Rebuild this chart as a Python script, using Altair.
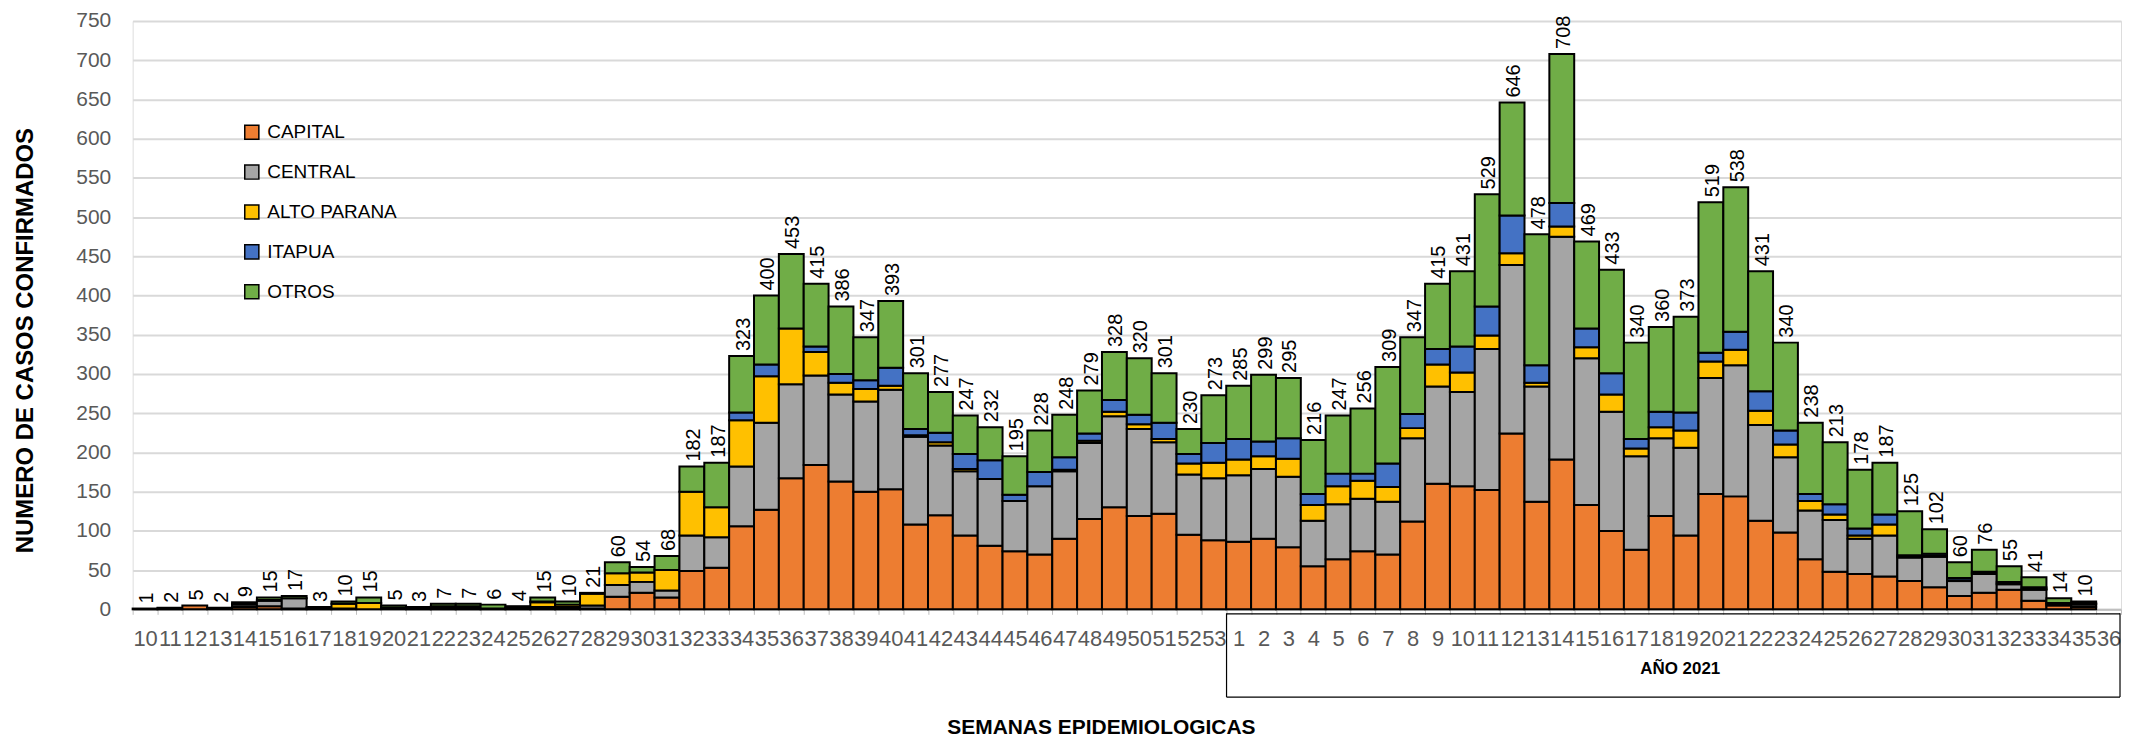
import altair as alt
import pandas as pd

WEEKS_2020 = list(range(10, 54))
WEEKS_2021 = list(range(1, 37))

SERIES = ["CAPITAL", "CENTRAL", "ALTO PARANA", "ITAPUA", "OTROS"]
COLORS = ["#ED7D31", "#A5A5A5", "#FFC000", "#4472C4", "#70AD47"]

# 2020 weeks 10..53 followed by 2021 weeks 1..36
CAPITAL = [0, 1, 5, 1, 3, 4, 1, 1, 1, 0, 1, 0, 1, 1, 0, 0, 1, 1, 1, 16,
           21, 15, 49, 53, 106, 127, 167, 184, 163, 150, 153, 108, 120, 94, 81, 74, 70, 90, 115, 130,
           119, 122, 95, 88,
           86, 90, 79, 55, 64, 74, 70, 112, 160, 157, 152, 224, 137, 191, 133, 100, 76, 119, 94, 147,
           144, 113, 98, 64, 48, 45, 42, 36, 28, 17, 21, 25, 11, 5, 3, 0]
CENTRAL = [1, 1, 0, 1, 3, 7, 13, 1, 0, 0, 1, 1, 2, 2, 1, 1, 2, 2, 4, 15,
           14, 9, 45, 39, 76, 111, 120, 114, 111, 115, 127, 112, 89, 82, 85, 64, 87, 86, 97, 116,
           111, 91, 77, 79,
           85, 89, 90, 58, 70, 67, 67, 106, 124, 120, 180, 215, 147, 284, 187, 152, 119, 99, 112, 148,
           167, 122, 96, 62, 66, 45, 52, 30, 39, 19, 24, 7, 14, 2, 3, 0]
ALTO_PARANA = [0, 0, 0, 0, 0, 0, 0, 0, 6, 8, 0, 0, 1, 1, 0, 1, 6, 3, 15, 15,
               12, 26, 56, 38, 59, 59, 71, 30, 15, 16, 5, 2, 4, 3, 0, 0, 0, 2, 3, 6,
               6, 4, 14, 20,
               20, 16, 23, 20, 23, 23, 19, 13, 28, 25, 17, 15, 5, 13, 14, 22, 10, 14, 22, 21,
               20, 18, 16, 12, 7, 4, 14, 1, 1, 1, 1, 1, 1, 0, 1, 0]
ITAPUA = [0, 0, 0, 0, 1, 1, 0, 0, 0, 0, 0, 0, 0, 0, 0, 0, 1, 0, 0, 0,
          0, 0, 0, 0, 10, 15, 0, 7, 11, 11, 23, 8, 12, 19, 24, 8, 18, 16, 9, 15,
          12, 21, 12, 25,
          26, 19, 26, 14, 16, 9, 30, 18, 20, 33, 37, 48, 22, 30, 24, 27, 12, 20, 23, 11,
          23, 25, 18, 9, 13, 9, 13, 2, 3, 3, 2, 2, 2, 1, 1, 0]
OTROS = [0, 0, 0, 0, 2, 3, 3, 1, 3, 7, 3, 2, 3, 3, 5, 2, 5, 4, 1, 14,
         7, 18, 32, 57, 72, 88, 95, 80, 86, 55, 85, 71, 52, 49, 42, 49, 53, 54, 55, 61,
         72, 63, 32, 61,
         68, 85, 77, 69, 74, 83, 123, 98, 83, 96, 143, 144, 167, 190, 111, 132, 123, 108, 122, 192,
         184, 153, 112, 91, 79, 75, 66, 56, 31, 20, 28, 20, 13, 6, 2, 0]
TOTALS = [1, 2, 5, 2, 9, 15, 17, 3, 10, 15, 5, 3, 7, 7, 6, 4, 15, 10, 21, 60,
          54, 68, 182, 187, 323, 400, 453, 415, 386, 347, 393, 301, 277, 247, 232, 195, 228, 248, 279, 328,
          320, 301, 230, 273,
          285, 299, 295, 216, 247, 256, 309, 347, 415, 431, 529, 646, 478, 708, 469, 433, 340, 360, 373, 519,
          538, 431, 340, 238, 213, 178, 187, 125, 102, 60, 76, 55, 41, 14, 10, 0]

YEAR_LABEL = "AÑO 2021"
X_TITLE = "SEMANAS EPIDEMIOLOGICAS"
Y_TITLE = "NUMERO DE CASOS CONFIRMADOS"

keys = [f"2020-{w}" for w in WEEKS_2020] + [f"2021-{w}" for w in WEEKS_2021]
values = [CAPITAL, CENTRAL, ALTO_PARANA, ITAPUA, OTROS]

rows = []
for i, k in enumerate(keys):
    for j, s in enumerate(SERIES):
        v = values[j][i]
        if v > 0:
            rows.append({"key": k, "serie": s, "ord": j, "v": v})
df = pd.DataFrame(rows)
tot = pd.DataFrame({"key": keys, "total": TOTALS})
tot = tot[tot["total"] > 0]

FONT = "Liberation Sans"

xscale = alt.Scale(domain=keys, paddingInner=0, paddingOuter=0)
x_axis = alt.Axis(
    labelExpr="split(datum.value, '-')[1]",
    labelAngle=0,
    labelFontSize=22,
    labelFont=FONT,
    labelColor="#595959",
    labelPadding=14,
    labelOverlap=False,
    ticks=True,
    tickBand="extent",
    tickSize=5,
    tickColor="#bfbfbf",
    domain=True,
    domainColor="#bfbfbf",
    domainWidth=2,
    title=X_TITLE,
    titleFont=FONT,
    titleFontSize=21,
    titleFontWeight="bold",
    titleColor="black",
    titleX=971,
    titleY=119,
    titleBaseline="middle",
    titleAlign="center",
)
y_axis = alt.Axis(
    values=list(range(0, 751, 50)),
    grid=True,
    gridColor="#d9d9d9",
    gridWidth=2,
    domain=False,
    ticks=False,
    tickSize=0,
    labelOverlap=False,
    labelFontSize=21,
    labelFont=FONT,
    labelColor="#595959",
    labelPadding=22,
    title=Y_TITLE,
    titleFont=FONT,
    titleFontSize=24,
    titleFontWeight="bold",
    titleColor="black",
    titleAngle=270,
    titleX=-100,
    titleY=320,
    titleBaseline="alphabetic",
    titleAlign="center",
)
yscale = alt.Scale(domain=[0, 750], nice=False)

bars = alt.Chart(df).mark_bar(stroke="black", strokeWidth=2).encode(
    x=alt.X("key:N", sort=keys, scale=xscale, axis=x_axis),
    y=alt.Y("sum(v):Q", stack="zero", scale=yscale, axis=y_axis),
    color=alt.Color(
        "serie:N",
        scale=alt.Scale(domain=SERIES, range=COLORS),
        legend=alt.Legend(
            orient="none",
            legendX=110,
            legendY=102,
            direction="vertical",
            title=None,
            symbolType="square",
            symbolSize=200,
            symbolStrokeColor="black",
            symbolStrokeWidth=1.5,
            symbolOpacity=1,
            labelFont=FONT,
            labelFontSize=19,
            labelColor="black",
            labelOffset=6,
            rowPadding=19,
            padding=0,
        ),
    ),
    order=alt.Order("ord:Q", sort="ascending"),
)

labels = alt.Chart(tot).mark_text(
    angle=270, align="left", baseline="middle", dx=5, dy=2, fontSize=20, font=FONT, color="black"
).encode(
    x=alt.X("key:N", sort=keys, scale=xscale, axis=x_axis),
    y=alt.Y("total:Q", scale=yscale, axis=y_axis),
    text=alt.Text("total:Q"),
)

box_df = pd.DataFrame({"k": [0]})
vline = alt.Chart(box_df).mark_rule(color="black", strokeWidth=1.2).encode(
    x=alt.value(1097), y=alt.value(594), y2=alt.value(678)
)
vline_r = alt.Chart(box_df).mark_rule(color="black", strokeWidth=1.2).encode(
    x=alt.value(1993), y=alt.value(594), y2=alt.value(678)
)
hline_top = alt.Chart(box_df).mark_rule(color="black", strokeWidth=1.2).encode(
    x=alt.value(1097), x2=alt.value(1993), y=alt.value(594.5)
)
hline_bot = alt.Chart(box_df).mark_rule(color="black", strokeWidth=1.2).encode(
    x=alt.value(1097), x2=alt.value(1993), y=alt.value(678)
)
year_text = alt.Chart(pd.DataFrame({"t": [YEAR_LABEL]})).mark_text(
    font=FONT, fontSize=17, fontWeight="bold", color="black", align="center", baseline="middle"
).encode(x=alt.value(1552), y=alt.value(650), text="t:N")

chart = alt.layer(bars, labels, vline, vline_r, hline_top, hline_bot, year_text).properties(
    width=1994,
    height=590,
    autosize=alt.AutoSizeParams(type="none"),
    padding={"left": 125, "top": 12, "right": 2, "bottom": 130},
).configure_view(stroke=None).configure(background="white")

chart.save("out.html", embed_options={"renderer": "svg", "actions": False})
